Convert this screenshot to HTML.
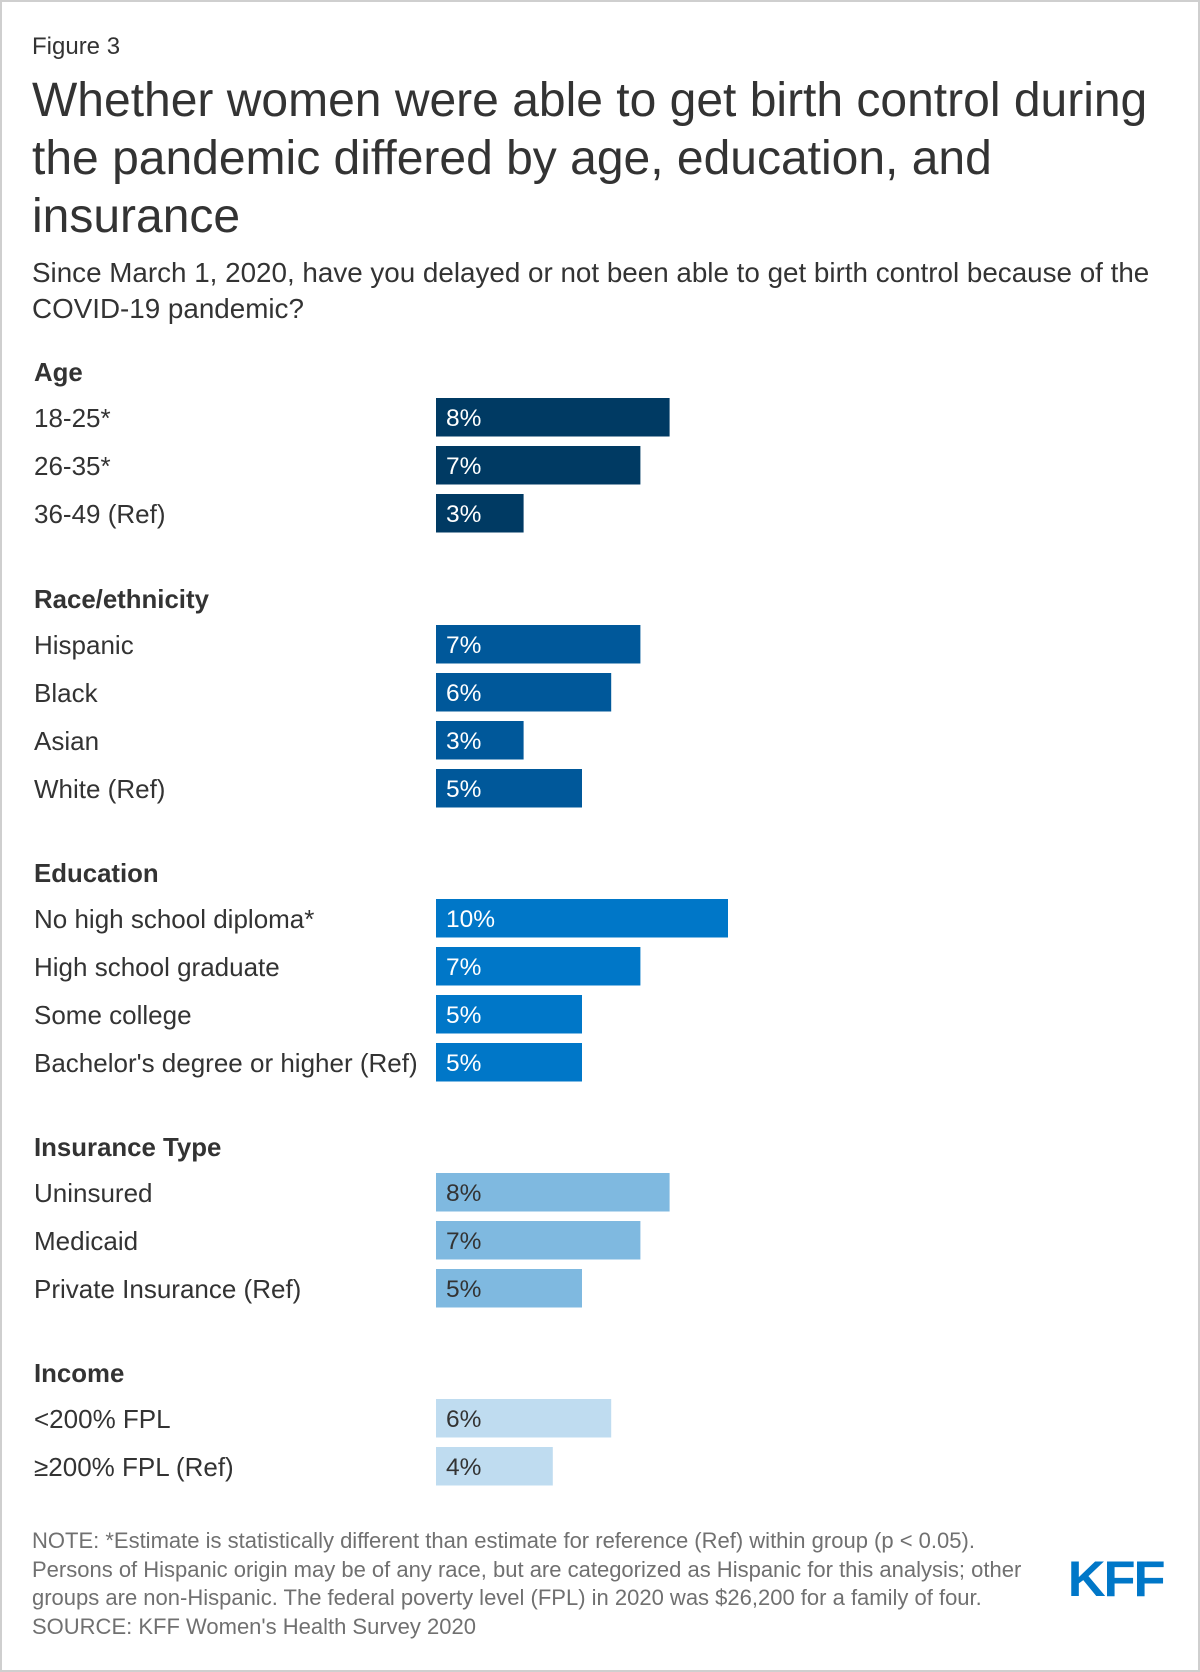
<!DOCTYPE html>
<html><head><meta charset="utf-8"><style>
body{margin:0;width:1200px;height:1672px;background:#fff;font-family:"Liberation Sans",Arial,sans-serif;position:relative;overflow:hidden}
.frame{position:absolute;left:0;top:0;width:1196px;height:1668px;border:2px solid #cfcfcf}
.t{position:absolute;white-space:nowrap}
</style></head><body>
<div class="frame"></div>
<div class="t" style="left:32px;top:33px;font-size:24px;color:#333">Figure 3</div>
<div class="t" style="left:32px;top:72px;font-size:48px;line-height:58px;color:#333;white-space:normal;width:1160px">Whether women were able to get birth control during the pandemic differed by age, education, and insurance</div>
<div class="t" style="left:32px;top:255px;font-size:27.8px;line-height:36px;color:#333;white-space:normal;width:1160px">Since March 1, 2020, have you delayed or not been able to get birth control because of the COVID-19 pandemic?</div>
<svg id="chart" width="1200" height="1672" style="position:absolute;left:0;top:0"></svg>
<div class="t" style="left:32px;top:1527px;font-size:22px;line-height:28.5px;color:#707070">NOTE: *Estimate is statistically different than estimate for reference (Ref) within group (p &lt; 0.05).<br>Persons of Hispanic origin may be of any race, but are categorized as Hispanic for this analysis; other<br>groups are non-Hispanic. The federal poverty level (FPL) in 2020 was $26,200 for a family of four.<br>SOURCE: KFF Women's Health Survey 2020</div>
<div class="t" style="left:1070px;top:1550px;font-size:50px;font-weight:bold;color:#0077c8;letter-spacing:-2px;transform:scaleX(1.05)">KFF</div>
<script>
const groups=["Age","Race/ethnicity","Education","Insurance Type","Income"];
const groupColors=["#003a63","#00589a","#0077c8","#7fb9e0","#bfdcf0"];
const groupTextColors=["#fff","#fff","#fff","#333","#333"];
const groupY=[373,600,874,1148,1374];
const categories=[["18-25*","26-35*","36-49 (Ref)"],["Hispanic","Black","Asian","White (Ref)"],["No high school diploma*","High school graduate","Some college","Bachelor's degree or higher (Ref)"],["Uninsured","Medicaid","Private Insurance (Ref)"],["<200% FPL","≥200% FPL (Ref)"]];
const values=[[8,7,3],[7,6,3,5],[10,7,5,5],[8,7,5],[6,4]];
const svg=document.getElementById('chart');const NS="http://www.w3.org/2000/svg";
const x0=436,pxPer=29.2,barH=38.5,rowStep=48;
const xs=v=>v*pxPer;
function mk(tag,attrs,txt){const e=document.createElementNS(NS,tag);for(const k in attrs)e.setAttribute(k,attrs[k]);if(txt!==undefined)e.textContent=txt;svg.appendChild(e);return e;}
groups.forEach((g,gi)=>{
  const h=mk('text',{x:34,y:groupY[gi]+8,'font-size':25.8,'font-weight':'bold',fill:'#333','font-family':'Liberation Sans, sans-serif'},g);
  
  
  categories[gi].forEach((c,i)=>{
    const top=groupY[gi]+25+i*rowStep;
    const l=mk('text',{x:34,y:top+29,'font-size':26,fill:'#333','font-family':'Liberation Sans, sans-serif'},c);
    
    
    const r=mk('rect',{x:x0,y:top,width:xs(values[gi][i]),height:barH,fill:groupColors[gi]});
    
    
    const v=mk('text',{x:x0+10,y:top+28,'font-size':24.5,fill:groupTextColors[gi],'font-family':'Liberation Sans, sans-serif'},values[gi][i]+'%');
    
    
  });
});
</script>
</body></html>
